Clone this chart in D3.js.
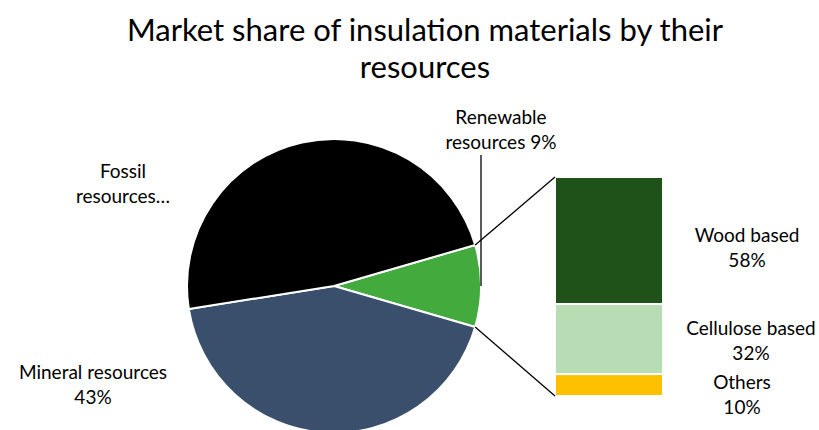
<!DOCTYPE html>
<html>
<head>
<meta charset="utf-8">
<script src="https://cdn.jsdelivr.net/npm/d3@7"></script>
<style>
  body { margin: 0; background: #fff; }
  text { font-family: Lato, "Open Sans", sans-serif; fill: #000; }
</style>
</head>
<body>
<svg width="819" height="430"></svg>
<script>
// pie data (share of all insulation materials, %)
var pieCategories = ['Renewable', 'Mineral', 'Fossil'];
var pieValues = [9, 43, 48];
var pieColors = ['#43ab3e', '#3a4f6b', '#000000'];

// breakdown of renewable resources (%)
var barCategories = ['Wood based', 'Cellulose based', 'Others'];
var barValues = [58, 32, 10];
var barColors = ['#1f5219', '#b8ddb4', '#ffc000'];

var titleLines = ['Market share of insulation materials by their', 'resources'];

var svg = d3.select('svg');
var svgWidth = +svg.attr('width');

var cx = 334, cy = 286, radius = 147;
var bar = {x: 555, w: 108, top: 177, bottom: 396};

// title
svg.selectAll('.title')
    .data(titleLines)
    .enter()
    .append('text')
    .attr('class', 'title')
    .attr('x', 425)
    .attr('y', function(d, i) { return 30 + i * 37; })
    .attr('dy', '0.35em')
    .attr('text-anchor', 'middle')
    .style('font-size', '31px')
    .text(function(d) { return d; });

// renewable slice centred on the right side
var renewShare = pieValues[0] / d3.sum(pieValues);
var pie = d3.pie()
    .sort(null)
    .startAngle(Math.PI / 2 - renewShare * Math.PI)
    .endAngle(Math.PI / 2 - renewShare * Math.PI + 2 * Math.PI);

var arcs = pie(pieValues);
var arc = d3.arc().innerRadius(0).outerRadius(radius);

var pieG = svg.append('g')
    .attr('transform', 'translate(' + [cx, cy] + ')');

pieG.selectAll('path')
    .data(arcs)
    .enter()
    .append('path')
    .attr('d', arc)
    .attr('fill', function(d, i) { return pieColors[i]; })
    .attr('stroke', '#fff')
    .attr('stroke-width', 2)
    .attr('stroke-linejoin', 'round');

// corners of the renewable slice
function edgePoint(angle) {
    return [cx + radius * Math.sin(angle), cy - radius * Math.cos(angle)];
}
var pTop = edgePoint(arcs[0].startAngle);
var pBottom = edgePoint(arcs[0].endAngle);

// stacked bar of the renewable breakdown
var yBar = d3.scaleLinear()
    .domain([0, d3.sum(barValues)])
    .range([bar.top, bar.bottom]);

var cum = 0;
var barData = barValues.map(function(v, i) {
    var d = {name: barCategories[i], value: v, y0: cum, y1: cum + v, color: barColors[i]};
    cum += v;
    return d;
});

svg.selectAll('.seg')
    .data(barData)
    .enter()
    .append('rect')
    .attr('class', 'seg')
    .attr('x', bar.x)
    .attr('width', bar.w)
    .attr('y', function(d) { return yBar(d.y0); })
    .attr('height', function(d) { return yBar(d.y1) - yBar(d.y0); })
    .attr('fill', function(d) { return d.color; })
    .attr('stroke', '#fff')
    .attr('stroke-width', 2);

// connector lines
svg.append('line')
    .attr('x1', pTop[0]).attr('y1', pTop[1])
    .attr('x2', bar.x).attr('y2', bar.top)
    .attr('stroke', '#000').attr('stroke-width', 1.3);
svg.append('line')
    .attr('x1', pBottom[0]).attr('y1', pBottom[1])
    .attr('x2', bar.x).attr('y2', bar.bottom)
    .attr('stroke', '#000').attr('stroke-width', 1.3);

// renewable leader line
svg.append('line')
    .attr('x1', cx + radius).attr('y1', 155)
    .attr('x2', cx + radius).attr('y2', cy)
    .attr('stroke', '#000').attr('stroke-width', 1.3);

// labels
var labels = [
    {lines: ['Fossil', 'resources\u2026'], x: 123, y: 171},
    {lines: ['Mineral resources', pieValues[1] + '%'], x: 93, y: 372},
    {lines: ['Renewable', 'resources ' + pieValues[0] + '%'], x: 501, y: 117},
    {lines: [barCategories[0], barValues[0] + '%'], x: 747, y: 235},
    {lines: [barCategories[1], barValues[1] + '%'], x: 751, y: 328},
    {lines: [barCategories[2], barValues[2] + '%'], x: 742, y: 382}
];

labels.forEach(function(l) {
    svg.append('g').selectAll('text')
        .data(l.lines)
        .enter()
        .append('text')
        .attr('x', l.x)
        .attr('y', function(d, i) { return l.y + i * 25; })
        .attr('dy', '0.35em')
        .attr('text-anchor', 'middle')
        .style('font-size', '19px')
        .text(function(d) { return d; });
});
</script>
</body>
</html>
